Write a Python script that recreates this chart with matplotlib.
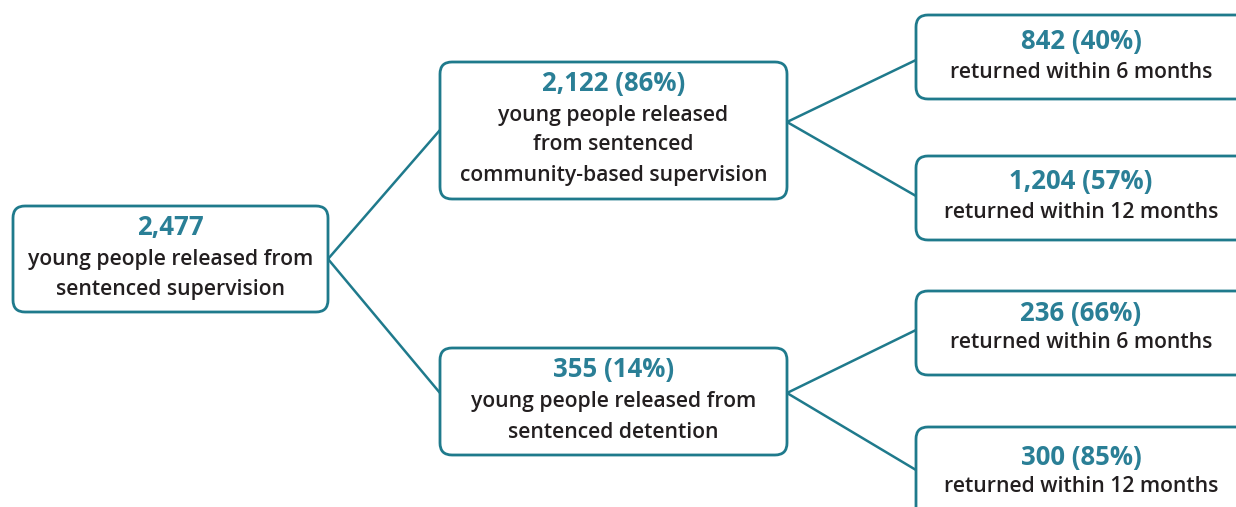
import matplotlib
matplotlib.use("Agg")
import matplotlib.pyplot as plt
from matplotlib.patches import FancyBboxPatch

plt.rcParams['font.family'] = ['Open Sans', 'DejaVu Sans']

TEAL = '#2a7f96'
LINE = '#1f7a8c'
DARK = '#231f20'

# Data
node_values = ["2,477", "2,122 (86%)", "355 (14%)",
               "842 (40%)", "1,204 (57%)", "236 (66%)", "300 (85%)"]
node_labels = ["young people released from\nsentenced supervision",
               "young people released\nfrom sentenced\ncommunity-based supervision",
               "young people released from\nsentenced detention",
               "returned within 6 months", "returned within 12 months",
               "returned within 6 months", "returned within 12 months"]
parents = [None, 0, 0, 1, 1, 2, 2]

# layout (pixel boxes: x0, y0, x1, y1)
boxes = [(13, 206, 328, 312), (440, 62, 787, 199), (440, 348, 787, 455),
         (916, 15, 1250, 99), (916, 156, 1250, 240), (916, 291, 1250, 375),
         (916, 427, 1250, 520)]
title_y = [227, 83, 370, 42, 182, 313, 457]
line_step = 30
conn_src = {1: (787, 122), 2: (787, 393), 0: (328, 259)}
conn_dst = [None, (440, 130), (440, 393), (916, 60), (916, 196), (916, 330), (916, 470)]

W, H = 1236, 507
fig = plt.figure(figsize=(W / 100, H / 100), dpi=100)
ax = fig.add_axes([0, 0, 1, 1])
ax.set_xlim(0, W)
ax.set_ylim(H, 0)
ax.axis('off')

for i, p in enumerate(parents):
    if p is None:
        continue
    sx, sy = conn_src[p]
    dx, dy = conn_dst[i]
    ax.plot([sx, dx], [sy, dy], color=LINE, lw=1.8, zorder=1, solid_capstyle='butt')

for i, (x0, y0, x1, y1) in enumerate(boxes):
    pad = 12
    patch = FancyBboxPatch((x0 + pad, y0 + pad), (x1 - x0) - 2 * pad, (y1 - y0) - 2 * pad,
                           boxstyle=f"round,pad={pad}", fc='white', ec=LINE, lw=2.0,
                           zorder=2, mutation_aspect=1)
    ax.add_patch(patch)
    cx = (x0 + x1) / 2 if i < 3 else 1081
    ax.text(cx, title_y[i], node_values[i], color=TEAL, fontsize=18.5, fontweight='bold',
            ha='center', va='center', zorder=3)
    for k, ln in enumerate(node_labels[i].split('\n')):
        ax.text(cx, title_y[i] + line_step * (k + 1) + (2 if i < 3 else 0), ln, color=DARK,
                fontsize=15.2, fontweight='semibold', ha='center', va='center', zorder=3)

fig.savefig('out.png', dpi=100)
